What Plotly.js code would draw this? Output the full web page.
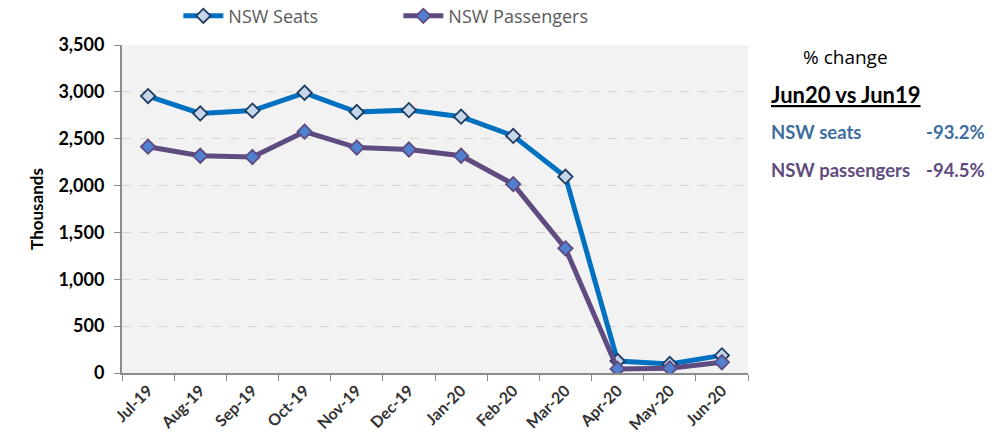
<!DOCTYPE html>
<html><head><meta charset="utf-8">
<script src="https://cdn.plot.ly/plotly-3.0.1.min.js"></script>
<style>body{margin:0;background:#fff}#c{width:999px;height:444px}</style>
</head><body><div id="c"></div>
<script>
const months = ["Jul-19","Aug-19","Sep-19","Oct-19","Nov-19","Dec-19","Jan-20","Feb-20","Mar-20","Apr-20","May-20","Jun-20"];
const seats = [2955, 2770, 2800, 2990, 2785, 2805, 2735, 2530, 2095, 128, 96, 188];
const passengers = [2415, 2318, 2305, 2575, 2405, 2385, 2318, 2015, 1330, 43, 50, 115];
const seriesNames = ["NSW Seats", "NSW Passengers"];
const changeLabels = ["NSW seats", "NSW passengers"];
const changeValues = ["-93.2%", "-94.5%"];

const F = "Lato, 'Open Sans', sans-serif";
const traces = [
  {x: months, y: seats, name: seriesNames[0], type: "scatter", mode: "lines+markers",
   line: {color: "#0070C0", width: 5},
   marker: {symbol: "diamond", size: 11, color: "#c5d6ea", line: {color: "#1f3a5f", width: 1.8}}},
  {x: months, y: passengers, name: seriesNames[1], type: "scatter", mode: "lines+markers",
   line: {color: "#5f4b80", width: 5},
   marker: {symbol: "diamond", size: 11, color: "#4f81d0", line: {color: "#5f4b80", width: 1.8}}}
];
const layout = {
  width: 999, height: 444,
  margin: {l: 122, r: 251, t: 45, b: 71, autoexpand: false},
  paper_bgcolor: "#ffffff", plot_bgcolor: "#f2f2f2",
  showlegend: true,
  legend: {orientation: "h", x: 0.09, y: 1.088, yanchor: "middle", xanchor: "left",
    font: {family: "'Open Sans', sans-serif", size: 18, color: "#595959"}, itemwidth: 40,
    entrywidth: 165, entrywidthmode: "pixels", traceorder: "normal",
    bgcolor: "rgba(0,0,0,0)"},
  xaxis: {type: "category", range: [-0.5, 11.5], tickangle: -45,
    tickfont: {family: F, size: 16, color: "#333", weight: "bold"},
    showgrid: false, showline: true, linecolor: "#8c8c8c", linewidth: 2,
    ticks: "outside", ticklen: 6, tickcolor: "#8c8c8c", tickson: "boundaries", zeroline: false},
  yaxis: {range: [0, 3500], dtick: 500, tickformat: ",",
    tickfont: {family: F, size: 18, color: "#000", weight: "bold"}, ticklabelstandoff: 6,
    showgrid: true, gridcolor: "#d4d4d4", griddash: "dash", gridwidth: 1,
    showline: true, linecolor: "#8c8c8c", linewidth: 2, ticks: "outside", ticklen: 6, tickcolor: "#8c8c8c",
    zeroline: false,
    title: {text: "Thousands", font: {family: F, size: 17, color: "#000", weight: "bold"}, standoff: 10}},
  annotations: [
    {xref: "paper", yref: "paper", x: 1.155, y: 0.963, xanchor: "center", yanchor: "middle", showarrow: false,
     text: "% change", font: {family: "'Open Sans', sans-serif", size: 19, color: "#000"}},
    {xref: "paper", yref: "paper", x: 1.033, y: 0.848, xanchor: "left", yanchor: "middle", showarrow: false,
     text: "<b><u>Jun20 vs Jun19</u></b>", font: {family: F, size: 22, color: "#000"}},
    {xref: "paper", yref: "paper", x: 1.033, y: 0.735, xanchor: "left", yanchor: "middle", showarrow: false,
     text: "<b>" + changeLabels[0] + "</b>", font: {family: F, size: 18.5, color: "#3e6ea0"}},
    {xref: "paper", yref: "paper", x: 1.381, y: 0.735, xanchor: "right", yanchor: "middle", showarrow: false,
     text: "<b>" + changeValues[0] + "</b>", font: {family: F, size: 18.5, color: "#3e6ea0"}},
    {xref: "paper", yref: "paper", x: 1.033, y: 0.619, xanchor: "left", yanchor: "middle", showarrow: false,
     text: "<b>" + changeLabels[1] + "</b>", font: {family: F, size: 18.5, color: "#5f4b80"}},
    {xref: "paper", yref: "paper", x: 1.381, y: 0.619, xanchor: "right", yanchor: "middle", showarrow: false,
     text: "<b>" + changeValues[1] + "</b>", font: {family: F, size: 18.5, color: "#5f4b80"}}
  ]
};
Plotly.newPlot("c", traces, layout, {displayModeBar: false, staticPlot: true});
</script></body></html>
